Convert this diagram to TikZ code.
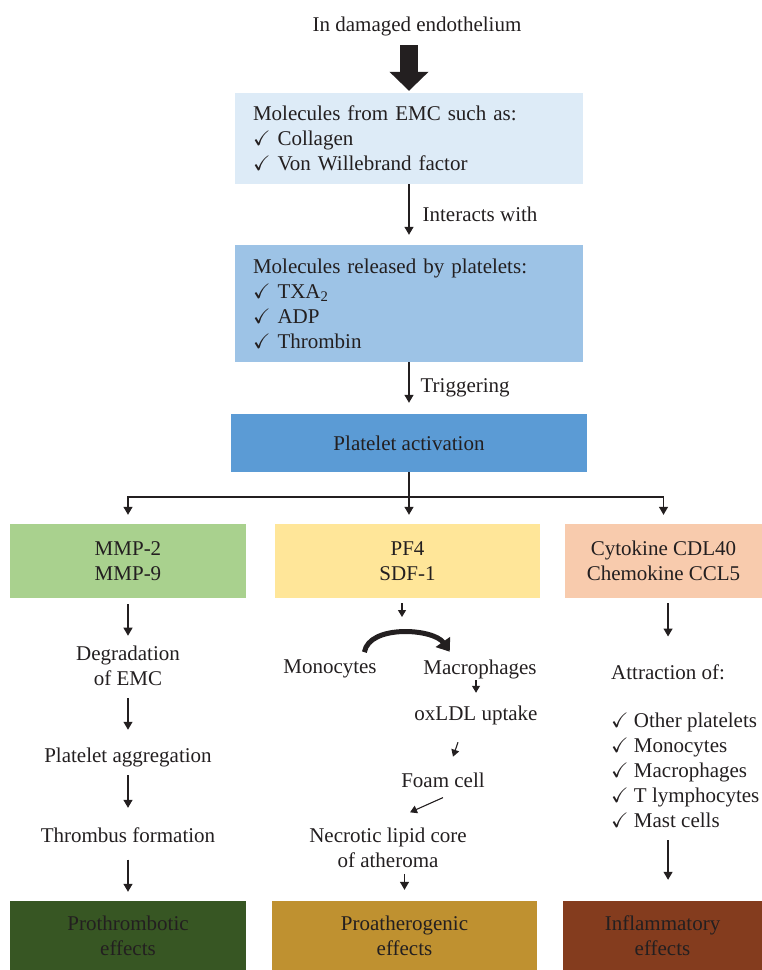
\documentclass[tikz,border=0pt]{standalone}
\usepackage{amssymb}
\usepackage{xcolor}
\usepackage{fontspec}
\setmainfont{Liberation Serif}
\usetikzlibrary{arrows.meta}

\definecolor{ctxt}{HTML}{231F20}
\definecolor{cemc}{HTML}{DDEBF7}
\definecolor{crel}{HTML}{9DC3E6}
\definecolor{cact}{HTML}{5B9BD5}
\definecolor{cmmp}{HTML}{A9D18E}
\definecolor{cpf}{HTML}{FFE699}
\definecolor{ccyt}{HTML}{F8CBAD}
\definecolor{cproth}{HTML}{375623}
\definecolor{cproath}{HTML}{BF9130}
\definecolor{cinfl}{HTML}{843C1E}

\tikzset{
  every node/.style={text=ctxt, font=\fontsize{21}{25}\selectfont, inner sep=0pt},
  box/.style={minimum height=74pt, align=center},
  effect/.style={minimum height=69pt, align=center},
  arr/.style={draw=ctxt, line width=1.2pt, -{Triangle[length=8pt,width=9pt]}},
  arrsmall/.style={draw=ctxt, line width=1.1pt, -{Triangle[length=7pt,width=8pt]}},
  bigarr/.style={draw=ctxt, line width=18pt, -{Triangle[length=19pt,width=38pt]}},
  curvearr/.style={draw=ctxt, line width=5pt, -{Triangle[length=12pt,width=17pt]}}
}

\begin{document}
\begin{tikzpicture}[x=1pt,y=-1pt]
\useasboundingbox (0,0) rectangle (762,970);

%顶部
\node (title) at (417,26) {In damaged endothelium};
\node[fill=cemc, minimum height=91pt, text width=312pt, inner xsep=18pt, align=left] (emc) at (409,138.5)
  {Molecules from EMC such as:\\$\checkmark$ Collagen\\$\checkmark$ Von Willebrand factor};
\node[fill=crel, minimum height=117pt, text width=312pt, inner xsep=18pt, align=left] (rel) at (409,303.5)
  {Molecules released by platelets:\\$\checkmark$ TXA\textsubscript{2}\\$\checkmark$ ADP\\$\checkmark$ Thrombin};
\node[fill=cact, minimum width=356pt, minimum height=58pt] (actv) at (409,443) {Platelet activation};
\coordinate (split) at (409,497);

%第二层三个框
\node[box, fill=cmmp, minimum width=236pt] (mmp) at (128,561) {MMP-2\\MMP-9};
\node[box, fill=cpf, minimum width=265pt] (pf) at (407.5,561) {PF4\\SDF-1};
\node[box, fill=ccyt, minimum width=197pt] (cyt) at (663.5,561) {Cytokine CDL40\\Chemokine CCL5};

%左列
\node[align=center] (degr) at (128,666.3) {Degradation\\of EMC};
\node (aggr) at (128,757) {Platelet aggregation};
\node (thromb) at (128,835) {Thrombus formation};

%中列
\coordinate (turn) at (402,617);
\node (mono) at (330,669) {Monocytes};
\node (macro) at (480,669) {Macrophages};
\node (oxldl) at (476,715) {oxLDL uptake};
\node (foam) at (443,780) {Foam cell};
\node[align=center] (necro) at (388,847.9) {Necrotic lipid core\\of atheroma};

%右列
\node[anchor=west] (attr) at (611,672) {Attraction of:};
\node[anchor=west, align=left] (list) at (611,769.9)
  {$\checkmark$ Other platelets\\$\checkmark$ Monocytes\\$\checkmark$ Macrophages\\$\checkmark$ T lymphocytes\\$\checkmark$ Mast cells};

%底层效应
\node[effect, fill=cproth, minimum width=236pt] (proth) at (128,935.5) {Prothrombotic\\effects};
\node[effect, fill=cproath, minimum width=265pt] (proath) at (404.5,935.5) {Proatherogenic\\effects};
\node[effect, fill=cinfl, minimum width=199pt] (infl) at (662.5,935.5) {Inflammatory\\effects};

%连线 上部
\draw[bigarr, shorten <=9.5pt, shorten >=2pt] (title.south -| emc.north) -- (emc.north);
\draw[arr, shorten >=10pt] (emc) -- (rel) node[midway, right=13pt] {Interacts with};
\draw[arr, shorten >=11pt] (rel) -- (actv) node[midway, right=11pt] {Triggering};

%分叉
\draw[draw=ctxt, line width=1.2pt] (actv) -- (split);
\draw[arr, shorten >=9pt] (split) -| (mmp);
\draw[arr, shorten >=9pt] (split) -- (split |- pf.north);
\draw[arr, shorten >=9pt] (split) -| (cyt);

%左列连线
\draw[arr, shorten <=6pt, shorten >=10.5pt] (mmp) -- (degr);
\draw[arr, shorten <=12pt, shorten >=17.5pt] (degr) -- (aggr);
\draw[arr, shorten <=8.4pt, shorten >=19.5pt] (aggr) -- (thromb);
\draw[arr, shorten <=17pt, shorten >=9pt] (thromb) -- (proth);

%中列连线
\draw[arrsmall, shorten <=5pt] (pf.south -| turn) -- (turn);
\draw[curvearr] ([xshift=-12.5pt,yshift=7.5pt]mono.north east) to[out=80, in=125, looseness=0.85]
  ([xshift=26.5pt,yshift=7.5pt]macro.north west);
\draw[arrsmall, shorten <=1.5pt, shorten >=12.5pt] (macro.south -| oxldl.north) -- (oxldl.north);
\draw[arrsmall] ([xshift=-18pt,yshift=-17.5pt]oxldl.south) -- ([xshift=10pt,yshift=15.75pt]foam.north);
\draw[arrsmall] ([yshift=-10pt]foam.south) -- ([xshift=22pt,yshift=15.5pt]necro.north);
\draw[arr, shorten <=6pt, shorten >=11pt] (necro.south -| proath.north) -- (proath.north);

%右列连线
\draw[arr, shorten <=5pt, shorten >=27.75pt] (cyt.south -| attr.north) -- (attr.north);
\draw[arr, shorten <=13pt, shorten >=21pt] (attr.north |- list.south) -- (attr.north |- infl.north);
\end{tikzpicture}
\end{document}
